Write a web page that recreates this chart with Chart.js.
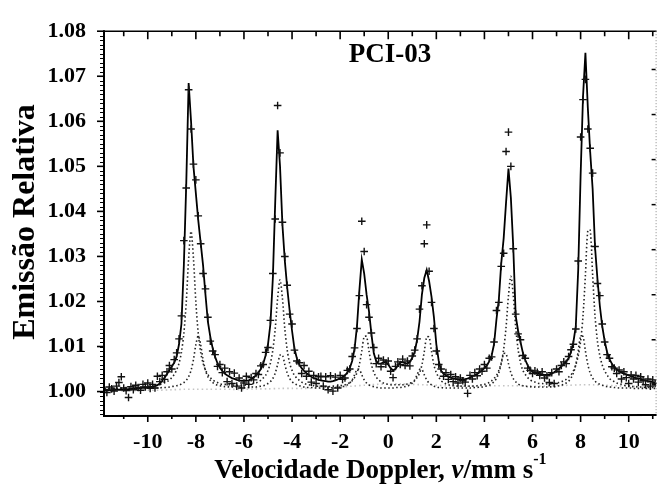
<!DOCTYPE html>
<html>
<head>
<meta charset="utf-8">
<script src="https://cdn.jsdelivr.net/npm/chart.js@4.4.1/dist/chart.umd.min.js"></script>
<style>
  html, body { margin: 0; padding: 0; background: #fff; }
  canvas { display: block; }
</style>
</head>
<body>
<canvas id="grafico" width="662" height="487"></canvas>
<script>
// velocidade Doppler (mm/s), um valor por canal
const velocidade = [
  -11.8,-11.7,-11.6,-11.5,-11.4,-11.3,-11.2,-11.1,-11.0,-10.9,
  -10.8,-10.7,-10.6,-10.5,-10.4,-10.3,-10.2,-10.1,-10.0,-9.9,
  -9.8,-9.7,-9.6,-9.5,-9.4,-9.3,-9.2,-9.1,-9.0,-8.9,
  -8.8,-8.7,-8.6,-8.5,-8.4,-8.3,-8.2,-8.1,-8.0,-7.9,
  -7.8,-7.7,-7.6,-7.5,-7.4,-7.3,-7.2,-7.1,-7.0,-6.9,
  -6.8,-6.7,-6.6,-6.5,-6.4,-6.3,-6.2,-6.1,-6.0,-5.9,
  -5.8,-5.7,-5.6,-5.5,-5.4,-5.3,-5.2,-5.1,-5.0,-4.9,
  -4.8,-4.7,-4.6,-4.5,-4.4,-4.3,-4.2,-4.1,-4.0,-3.9,
  -3.8,-3.7,-3.6,-3.5,-3.4,-3.3,-3.2,-3.1,-3.0,-2.9,
  -2.8,-2.7,-2.6,-2.5,-2.4,-2.3,-2.2,-2.1,-2.0,-1.9,
  -1.8,-1.7,-1.6,-1.5,-1.4,-1.3,-1.2,-1.1,-1.0,-0.9,
  -0.8,-0.7,-0.6,-0.5,-0.4,-0.3,-0.2,-0.1,0.0,0.1,
  0.2,0.3,0.4,0.5,0.6,0.7,0.8,0.9,1.0,1.1,
  1.2,1.3,1.4,1.5,1.6,1.7,1.8,1.9,2.0,2.1,
  2.2,2.3,2.4,2.5,2.6,2.7,2.8,2.9,3.0,3.1,
  3.2,3.3,3.4,3.5,3.6,3.7,3.8,3.9,4.0,4.1,
  4.2,4.3,4.4,4.5,4.6,4.7,4.8,4.9,5.0,5.1,
  5.2,5.3,5.4,5.5,5.6,5.7,5.8,5.9,6.0,6.1,
  6.2,6.3,6.4,6.5,6.6,6.7,6.8,6.9,7.0,7.1,
  7.2,7.3,7.4,7.5,7.6,7.7,7.8,7.9,8.0,8.1,
  8.2,8.3,8.4,8.5,8.6,8.7,8.8,8.9,9.0,9.1,
  9.2,9.3,9.4,9.5,9.6,9.7,9.8,9.9,10.0,10.1,
  10.2,10.3,10.4,10.5,10.6,10.7,10.8,10.9,11.0,11.1
];

// pontos experimentais (+)
const emissao = [
  1.0004,0.9998,1.0010,1.0006,1.0001,1.0012,1.0020,1.0033,1.0008,1.0002,
  0.9987,1.0011,1.0004,1.0014,1.0009,1.0003,1.0016,1.0010,1.0019,1.0007,
  1.0016,1.0008,1.0034,1.0022,1.0036,1.0027,1.0044,1.0058,1.0050,1.0071,
  1.0086,1.0117,1.0168,1.0335,1.0452,1.0670,1.0583,1.0505,1.0470,1.0390,
  1.0328,1.0262,1.0228,1.0165,1.0112,1.0090,1.0082,1.0056,1.0060,1.0042,
  1.0052,1.0022,1.0044,1.0018,1.0041,1.0012,1.0030,1.0008,1.0019,1.0034,
  1.0016,1.0031,1.0026,1.0040,1.0038,1.0057,1.0060,1.0087,1.0098,1.0158,
  1.0262,1.0383,1.0635,1.0530,1.0376,1.0300,1.0236,1.0172,1.0150,1.0092,
  1.0068,1.0064,1.0040,1.0058,1.0034,1.0045,1.0021,1.0036,1.0018,1.0033,
  1.0034,1.0012,1.0033,1.0004,1.0035,1.0001,1.0032,1.0008,1.0036,1.0027,
  1.0030,1.0047,1.0050,1.0078,1.0097,1.0140,1.0213,1.0378,1.0311,1.0193,
  1.0165,1.0130,1.0098,1.0062,1.0074,1.0055,1.0070,1.0061,1.0068,1.0045,
  1.0031,1.0056,1.0066,1.0060,1.0072,1.0058,1.0068,1.0057,1.0079,1.0092,
  1.0117,1.0183,1.0235,1.0328,1.0370,1.0267,1.0198,1.0140,1.0090,1.0060,
  1.0050,1.0034,1.0042,1.0027,1.0038,1.0022,1.0033,1.0019,1.0030,1.0024,
  1.0021,0.9996,1.0036,1.0028,1.0042,1.0035,1.0050,1.0045,1.0060,1.0052,
  1.0074,1.0077,1.0110,1.0180,1.0198,1.0278,1.0307,1.0533,1.0576,1.0500,
  1.0317,1.0172,1.0128,1.0115,1.0080,1.0074,1.0052,1.0047,1.0040,1.0046,
  1.0043,1.0036,1.0044,1.0030,1.0035,1.0020,1.0042,1.0018,1.0050,1.0044,
  1.0058,1.0066,1.0062,1.0078,1.0093,1.0105,1.0139,1.0290,1.0565,1.0648,
  1.0693,1.0583,1.0540,1.0485,1.0322,1.0240,1.0213,1.0150,1.0110,1.0082,
  1.0074,1.0055,1.0052,1.0040,1.0048,1.0028,1.0044,1.0031,1.0018,1.0037,
  1.0028,1.0036,1.0021,1.0033,1.0024,1.0015,1.0028,1.0012,1.0026,1.0018
];

// curva ajustada (linha cheia)
const ajuste = [
  1.0002,1.0002,1.0003,1.0003,1.0003,1.0004,1.0004,1.0004,1.0005,1.0005,
  1.0005,1.0006,1.0006,1.0007,1.0007,1.0008,1.0008,1.0009,1.0009,1.0010,
  1.0011,1.0012,1.0014,1.0018,1.0024,1.0031,1.0039,1.0048,1.0056,1.0064,
  1.0078,1.0105,1.0150,1.0280,1.0460,1.0685,1.0600,1.0500,1.0440,1.0380,
  1.0330,1.0280,1.0215,1.0155,1.0122,1.0096,1.0077,1.0063,1.0053,1.0046,
  1.0040,1.0036,1.0033,1.0030,1.0028,1.0026,1.0025,1.0024,1.0024,1.0024,
  1.0025,1.0028,1.0032,1.0036,1.0042,1.0050,1.0062,1.0080,1.0105,1.0150,
  1.0250,1.0420,1.0580,1.0500,1.0370,1.0290,1.0230,1.0180,1.0135,1.0095,
  1.0074,1.0060,1.0052,1.0046,1.0041,1.0037,1.0033,1.0030,1.0028,1.0026,
  1.0025,1.0024,1.0023,1.0022,1.0022,1.0023,1.0025,1.0027,1.0030,1.0032,
  1.0036,1.0042,1.0052,1.0068,1.0095,1.0145,1.0225,1.0293,1.0262,1.0215,
  1.0178,1.0128,1.0085,1.0068,1.0062,1.0062,1.0065,1.0066,1.0060,1.0052,
  1.0047,1.0050,1.0058,1.0065,1.0066,1.0063,1.0062,1.0066,1.0075,1.0088,
  1.0115,1.0155,1.0215,1.0252,1.0270,1.0245,1.0210,1.0165,1.0105,1.0068,
  1.0046,1.0040,1.0036,1.0033,1.0031,1.0029,1.0028,1.0027,1.0026,1.0026,
  1.0027,1.0029,1.0031,1.0034,1.0036,1.0039,1.0043,1.0047,1.0052,1.0058,
  1.0067,1.0080,1.0105,1.0160,1.0205,1.0285,1.0340,1.0420,1.0495,1.0430,
  1.0320,1.0168,1.0135,1.0110,1.0086,1.0070,1.0058,1.0049,1.0044,1.0041,
  1.0040,1.0039,1.0038,1.0037,1.0037,1.0038,1.0040,1.0043,1.0047,1.0051,
  1.0056,1.0061,1.0067,1.0074,1.0088,1.0110,1.0145,1.0270,1.0480,1.0655,
  1.0752,1.0630,1.0530,1.0450,1.0320,1.0250,1.0190,1.0145,1.0112,1.0088,
  1.0072,1.0062,1.0054,1.0049,1.0045,1.0042,1.0040,1.0038,1.0036,1.0034,
  1.0032,1.0030,1.0029,1.0028,1.0026,1.0025,1.0023,1.0022,1.0021,1.0020
];

// subespectro A (pontilhado, maior)
const sitioA = [
  1.0007,1.0007,1.0007,1.0007,1.0008,1.0008,1.0008,1.0008,1.0008,1.0008,
  1.0008,1.0009,1.0009,1.0009,1.0009,1.0010,1.0010,1.0011,1.0011,1.0012,
  1.0012,1.0013,1.0014,1.0016,1.0017,1.0020,1.0022,1.0026,1.0031,1.0038,
  1.0048,1.0063,1.0087,1.0129,1.0198,1.0296,1.0356,1.0296,1.0198,1.0129,
  1.0087,1.0063,1.0048,1.0038,1.0031,1.0026,1.0022,1.0020,1.0017,1.0016,
  1.0016,1.0016,1.0015,1.0015,1.0014,1.0014,1.0014,1.0014,1.0014,1.0015,
  1.0016,1.0017,1.0018,1.0019,1.0022,1.0025,1.0030,1.0036,1.0047,1.0063,
  1.0092,1.0139,1.0207,1.0248,1.0207,1.0139,1.0092,1.0063,1.0047,1.0036,
  1.0030,1.0025,1.0021,1.0018,1.0016,1.0015,1.0014,1.0013,1.0012,1.0012,
  1.0012,1.0011,1.0011,1.0011,1.0011,1.0012,1.0012,1.0012,1.0013,1.0014,
  1.0015,1.0017,1.0020,1.0024,1.0031,1.0042,1.0060,1.0090,1.0122,1.0122,
  1.0090,1.0060,1.0043,1.0032,1.0026,1.0022,1.0019,1.0017,1.0016,1.0015,
  1.0015,1.0015,1.0015,1.0015,1.0015,1.0016,1.0017,1.0019,1.0020,1.0024,
  1.0031,1.0041,1.0059,1.0089,1.0121,1.0121,1.0089,1.0059,1.0042,1.0032,
  1.0024,1.0020,1.0017,1.0015,1.0014,1.0013,1.0013,1.0012,1.0012,1.0012,
  1.0012,1.0012,1.0012,1.0012,1.0013,1.0013,1.0014,1.0015,1.0016,1.0018,
  1.0020,1.0024,1.0029,1.0036,1.0047,1.0064,1.0094,1.0143,1.0213,1.0256,
  1.0213,1.0143,1.0094,1.0064,1.0047,1.0038,1.0031,1.0026,1.0023,1.0021,
  1.0019,1.0018,1.0018,1.0017,1.0017,1.0017,1.0017,1.0018,1.0019,1.0020,
  1.0022,1.0024,1.0027,1.0032,1.0037,1.0046,1.0059,1.0079,1.0112,1.0168,
  1.0259,1.0358,1.0358,1.0259,1.0168,1.0112,1.0079,1.0059,1.0046,1.0037,
  1.0029,1.0025,1.0022,1.0019,1.0017,1.0016,1.0014,1.0013,1.0013,1.0012,
  1.0011,1.0011,1.0010,1.0010,1.0010,1.0009,1.0009,1.0009,1.0009,1.0008
];

// subespectro B (pontilhado, menor)
const sitioB = [
  1.0006,1.0006,1.0006,1.0006,1.0006,1.0006,1.0007,1.0007,1.0007,1.0007,
  1.0007,1.0007,1.0007,1.0007,1.0007,1.0007,1.0007,1.0007,1.0007,1.0007,
  1.0008,1.0008,1.0008,1.0008,1.0009,1.0009,1.0009,1.0010,1.0011,1.0012,
  1.0013,1.0014,1.0017,1.0020,1.0025,1.0033,1.0047,1.0071,1.0104,1.0124,
  1.0104,1.0071,1.0047,1.0033,1.0025,1.0020,1.0017,1.0014,1.0013,1.0012,
  1.0011,1.0011,1.0010,1.0010,1.0010,1.0010,1.0009,1.0009,1.0009,1.0009,
  1.0009,1.0010,1.0010,1.0010,1.0011,1.0012,1.0013,1.0015,1.0018,1.0022,
  1.0029,1.0041,1.0060,1.0081,1.0081,1.0060,1.0041,1.0029,1.0022,1.0018,
  1.0015,1.0013,1.0012,1.0010,1.0009,1.0009,1.0009,1.0008,1.0008,1.0008,
  1.0008,1.0008,1.0008,1.0008,1.0008,1.0009,1.0009,1.0009,1.0010,1.0011,
  1.0012,1.0015,1.0019,1.0026,1.0037,1.0049,1.0049,1.0037,1.0026,1.0019,
  1.0015,1.0012,1.0011,1.0009,1.0009,1.0008,1.0008,1.0008,1.0008,1.0008,
  1.0008,1.0009,1.0009,1.0009,1.0010,1.0011,1.0012,1.0015,1.0019,1.0026,
  1.0037,1.0049,1.0049,1.0037,1.0026,1.0019,1.0015,1.0012,1.0011,1.0009,
  1.0009,1.0008,1.0008,1.0008,1.0008,1.0008,1.0008,1.0008,1.0008,1.0008,
  1.0008,1.0008,1.0008,1.0008,1.0009,1.0009,1.0010,1.0010,1.0011,1.0013,
  1.0014,1.0017,1.0022,1.0029,1.0042,1.0062,1.0084,1.0084,1.0062,1.0042,
  1.0029,1.0022,1.0017,1.0014,1.0013,1.0012,1.0011,1.0011,1.0010,1.0010,
  1.0010,1.0010,1.0010,1.0010,1.0010,1.0010,1.0011,1.0011,1.0012,1.0013,
  1.0014,1.0016,1.0019,1.0023,1.0030,1.0041,1.0060,1.0090,1.0122,1.0122,
  1.0090,1.0060,1.0041,1.0030,1.0023,1.0019,1.0016,1.0014,1.0012,1.0011,
  1.0010,1.0010,1.0009,1.0009,1.0008,1.0008,1.0008,1.0008,1.0008,1.0008,
  1.0007,1.0007,1.0007,1.0007,1.0007,1.0007,1.0007,1.0007,1.0007,1.0007
];

// terceiro componente (pontilhado claro, quase na linha de base)
const velocidadeC = [
  -11.5,-11.0,-10.5,-10.0,-9.5,-9.0,-8.5,-8.0,-7.5,-7.0,-6.5,-6.0,-5.5,-5.0,-4.5,-4.0,
  -3.5,-3.0,-2.5,-2.0,-1.5,-1.0,-0.5,0.0,0.5,1.0,1.5,2.0,2.5,3.0,3.5,4.0,
  4.5,5.0,5.5,6.0,6.5,7.0,7.5,8.0,8.5,9.0,9.5,10.0,10.5,11.0
];
const sitioC = [
  1.0001,1.0002,1.0002,1.0003,1.0003,1.0004,1.0005,1.0005,1.0005,1.0005,1.0005,1.0005,1.0006,1.0006,1.0007,1.0007,
  1.0007,1.0008,1.0009,1.0010,1.0012,1.0014,1.0016,1.0017,1.0017,1.0016,1.0015,1.0014,1.0013,1.0012,1.0012,1.0012,
  1.0013,1.0013,1.0013,1.0012,1.0012,1.0013,1.0014,1.0015,1.0015,1.0014,1.0013,1.0012,1.0011,1.0010
];

const yTicks = [1.00, 1.01, 1.02, 1.03, 1.04, 1.05, 1.06, 1.07, 1.08];
const xTicks = [-10, -8, -6, -4, -2, 0, 2, 4, 6, 8, 10];
const ticksDireita = [1.0715, 1.0615, 1.0515, 1.0415, 1.0315, 1.0215, 1.0115, 1.0015];
const titulo = 'PCI-03';

const fonte = '"Liberation Serif", "DejaVu Serif", serif';

function pares(xs, ys) {
  const n = Math.min(xs.length, ys.length);
  const out = [];
  for (let i = 0; i < n; i++) out.push({ x: xs[i], y: ys[i] });
  return out;
}

const moldura = {
  id: 'moldura',
  afterDraw(chart) {
    const { ctx, chartArea: a, scales } = chart;
    const sx = scales.x, sy = scales.y;
    ctx.save();
    ctx.strokeStyle = '#000';

    // eixo esquerdo e inferior
    ctx.lineWidth = 2;
    ctx.beginPath();
    ctx.moveTo(a.left, a.top - 1);
    ctx.lineTo(a.left, a.bottom + 1);
    ctx.lineTo(a.right, a.bottom);
    ctx.stroke();

    // eixo superior
    ctx.lineWidth = 1.6;
    ctx.beginPath();
    ctx.moveTo(a.left, a.top);
    ctx.lineTo(a.right, a.top);
    ctx.stroke();

    // borda direita pontilhada
    ctx.lineWidth = 1;
    ctx.strokeStyle = '#888';
    ctx.setLineDash([1, 2]);
    ctx.beginPath();
    ctx.moveTo(a.right - 0.5, a.top);
    ctx.lineTo(a.right - 0.5, a.bottom);
    ctx.stroke();
    ctx.setLineDash([]);
    ctx.strokeStyle = '#000';
    ctx.lineWidth = 1.5;
    ticksDireita.forEach(v => {
      const py = sy.getPixelForValue(v);
      ctx.beginPath();
      ctx.moveTo(a.right - 5, py);
      ctx.lineTo(a.right - 1, py);
      ctx.stroke();
    });

    // marcas do eixo y (régua fina + principais)
    ctx.lineWidth = 1;
    for (let k = 995; k <= 1080; k++) {
      const py = Math.round(sy.getPixelForValue(k / 1000)) + 0.5;
      if (py < a.top - 1 || py > a.bottom) continue;
      ctx.beginPath();
      ctx.moveTo(a.left - 4, py);
      ctx.lineTo(a.left, py);
      ctx.stroke();
    }
    ctx.lineWidth = 1.6;
    yTicks.forEach(v => {
      const py = sy.getPixelForValue(v);
      ctx.beginPath();
      ctx.moveTo(a.left - 7, py);
      ctx.lineTo(a.left, py);
      ctx.stroke();
    });

    // marcas do eixo x (inferior para fora, superior para dentro)
    ctx.lineWidth = 1.6;
    for (let v = -11; v <= 11; v++) {
      const px = sx.getPixelForValue(v);
      const maior = v % 2 === 0;
      ctx.beginPath();
      ctx.moveTo(px, a.bottom);
      ctx.lineTo(px, a.bottom + (maior ? 7 : 4));
      ctx.moveTo(px, a.top);
      ctx.lineTo(px, a.top + (maior ? 8 : 5));
      ctx.stroke();
    }

    // título do painel
    ctx.fillStyle = '#000';
    ctx.font = 'bold 27px ' + fonte;
    ctx.textAlign = 'center';
    ctx.textBaseline = 'alphabetic';
    ctx.fillText(titulo, 390, 62);

    // título do eixo y
    ctx.save();
    ctx.translate(34, 222);
    ctx.rotate(-Math.PI / 2);
    ctx.font = 'bold 32px ' + fonte;
    ctx.textAlign = 'center';
    ctx.fillText('Emissão Relativa', 0, 0);
    ctx.restore();

    // título do eixo x com ν itálico e expoente
    const partes = [
      { t: 'Velocidade Doppler, ', f: 'bold 27px ' + fonte, dy: 0 },
      { t: 'ν', f: 'italic bold 27px ' + fonte, dy: 0 },
      { t: '/mm s', f: 'bold 27px ' + fonte, dy: 0 },
      { t: '-1', f: 'bold 16px ' + fonte, dy: -14 }
    ];
    let total = 0;
    partes.forEach(p => { ctx.font = p.f; p.w = ctx.measureText(p.t).width; total += p.w; });
    let cx = (a.left + a.right) / 2 - total / 2;
    ctx.textAlign = 'left';
    partes.forEach(p => {
      ctx.font = p.f;
      ctx.fillText(p.t, cx, 478 + p.dy);
      cx += p.w;
    });
    ctx.restore();
  }
};

const ctx = document.getElementById('grafico');

new Chart(ctx, {
  type: 'scatter',
  data: {
    datasets: [
      {
        label: 'Emissão',
        data: pares(velocidade, emissao),
        showLine: false,
        pointStyle: 'cross',
        pointRadius: 3.8,
        pointBorderWidth: 1.4,
        borderColor: '#111',
        backgroundColor: '#111'
      },
      {
        label: 'Ajuste',
        data: pares(velocidade, ajuste),
        showLine: true,
        pointRadius: 0,
        borderColor: '#000',
        borderWidth: 1.8,
        tension: 0
      },
      {
        label: 'Sítio A',
        data: pares(velocidade, sitioA),
        showLine: true,
        pointRadius: 0,
        borderColor: '#222',
        borderWidth: 1.6,
        borderDash: [1.5, 2.5],
        tension: 0.3
      },
      {
        label: 'Sítio B',
        data: pares(velocidade, sitioB),
        showLine: true,
        pointRadius: 0,
        borderColor: '#222',
        borderWidth: 1.6,
        borderDash: [1.5, 2.5],
        tension: 0.3
      },
      {
        label: 'Sítio C',
        data: pares(velocidadeC, sitioC),
        showLine: true,
        pointRadius: 0,
        borderColor: '#c4c4c4',
        borderWidth: 1.6,
        borderDash: [1.5, 3],
        tension: 0.3
      }
    ]
  },
  options: {
    responsive: false,
    animation: false,
    devicePixelRatio: 1,
    layout: { padding: { top: 23, right: 2, left: 0, bottom: 0 } },
    plugins: {
      legend: { display: false },
      tooltip: { enabled: false },
      title: { display: false }
    },
    scales: {
      x: {
        type: 'linear',
        min: -11.82,
        max: 11.16,
        grid: { display: false, drawTicks: false },
        border: { display: false },
        afterBuildTicks: s => { s.ticks = xTicks.map(v => ({ value: v })); },
        afterFit: s => { s.height = 72; },
        ticks: {
          color: '#000',
          padding: 14,
          maxRotation: 0,
          autoSkip: false,
          font: { family: fonte, size: 22, weight: 'bold' },
          callback: v => String(v)
        }
      },
      y: {
        min: 0.9948,
        max: 1.08,
        grid: { display: false, drawTicks: false },
        border: { display: false },
        afterBuildTicks: s => { s.ticks = yTicks.map(v => ({ value: v })); },
        afterFit: s => { s.width = 104; },
        ticks: {
          color: '#000',
          padding: 18,
          autoSkip: false,
          font: { family: fonte, size: 22, weight: 'bold' },
          callback: v => Number(v).toFixed(2)
        }
      }
    }
  },
  plugins: [moldura]
});
</script>
</body>
</html>
